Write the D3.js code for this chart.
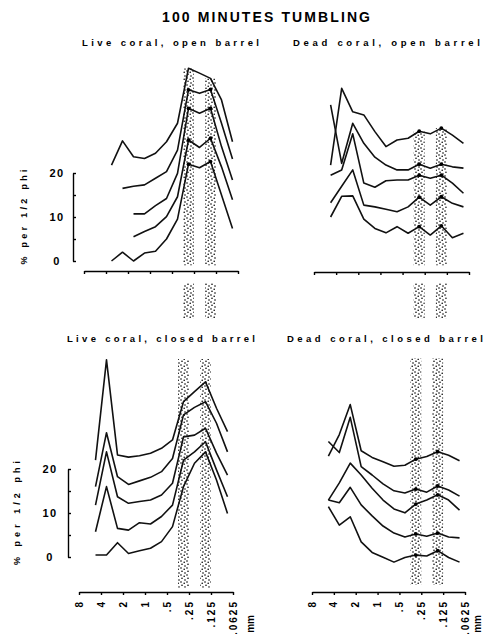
<!DOCTYPE html>
<html><head><meta charset="utf-8">
<script src="https://cdn.jsdelivr.net/npm/d3@7"></script>
<style>
body{margin:0;background:#fff}
svg{display:block}
text{font-family:"Liberation Sans",Arial,Helvetica,sans-serif;font-weight:bold;fill:#000}
</style>
</head><body>
<svg id="chart" width="485" height="634"></svg>
<script>
// ---------- data ----------
const chartTitle = "100 MINUTES TUMBLING";
const panelTitles = ["Live coral, open barrel", "Dead coral, open barrel", "Live coral, closed barrel", "Dead coral, closed barrel"];
const yAxisTitle = "% per 1/2 phi";
const phiTicks = [-3, -2, -1, 0, 1, 2, 3, 4];
const sizeLabels = ["8", "4", "2", "1", ".5", ".25", ".125", ".0625"];
const unitLabel = "mm";
const yTicks = [0, 5, 10, 15, 20];
const yTickLabels = [0, 10, 20];
const stackStep = 5;                 // each curve raised 5 % above the previous one
const bandPhi = [[1.5, 2.0], [2.5, 3.0]];
const markPhi = [1.75, 2.75];

const phiLiveOpen = [-1.75, -1.25, -0.75, -0.25, 0.25, 0.75, 1.25, 1.75, 2.25, 2.75, 3.25, 3.75];
const phiOther = [-2.25, -1.75, -1.25, -0.75, -0.25, 0.25, 0.75, 1.25, 1.75, 2.25, 2.75, 3.25, 3.75];

// curves listed bottom to top
const liveOpen = [
  [0, 2, 0, 1.8, 2.2, 5, 9.5, 22, 21.2, 22.6, 15, 7.4],
  [null, null, 0.5, 1.7, 2.8, 5.1, 9.6, 22.5, 20.8, 22.9, 16.4, 8.9],
  [null, null, 0.7, 0.7, 2.6, 4.2, 9.9, 24.7, 23.6, 24.7, 16, 8.4],
  [null, 1.5, 2, 2.3, 3.8, 5.3, 10.2, 23.9, 23.1, 24, 16.3, 8.2],
  [1.8, 7.3, 3.7, 3.3, 4.5, 7.1, 11.3, 23.8, 22.7, 21.5, 16.6, 7.1]
];
const deadOpen = [
  [10, 14.7, 14.8, 9.5, 7.4, 6.4, 7.8, 6.3, 7.8, 5.9, 8, 5.3, 6.3],
  [8.25, 12, 15.7, 7.7, 7.3, 6.75, 6.2, 7.3, 9.5, 7.7, 9.6, 8.1, 7.3],
  [9.5, 10.7, 18.9, 7.7, 6.75, 8.25, 8.4, 8.4, 9.5, 8.8, 9.5, 7.7, 5.4],
  [20.5, 7.2, 16.3, 11.75, 8.6, 6.8, 5.7, 5.7, 7, 6.1, 7, 6.4, 6.1],
  [1.8, 19.25, 13.9, 13.2, 9.4, 6, 7.5, 7.9, 9.5, 8.9, 10.2, 8.6, 6.75]
];
const liveClosed = [
  [0.45, 0.45, 3.25, 0.8, 1.4, 2, 3.5, 6.9, 16, 21.3, 23.9, 17.5, 9.9],
  [0.75, 11, 1.5, 1.1, 2.8, 2.5, 4.2, 6.8, 17, 18.9, 21.2, 14.8, 8.7],
  [1.8, 13.9, 3.7, 2.2, 2.6, 2.95, 4.1, 6.75, 17.3, 17.7, 19.25, 13.6, 8.6],
  [1, 13.25, 3.25, 1.5, 2.3, 3.1, 4.4, 7.4, 17.3, 19, 20.3, 15.4, 8.9],
  [2, 24.8, 3.2, 2.7, 3, 3.6, 4.7, 6.6, 15.3, 17.6, 19.8, 13.8, 8.5]
];
const deadClosed = [
  [12.8, 8.6, 10.5, 4.8, 2.4, 1.3, 0.2, 1.25, 1.8, 1.6, 2.8, 1.25, 0.2],
  [9.3, 8.7, 12.2, 8.2, 5.7, 3.4, 1.8, 0.9, 1.6, 1.1, 1.8, 0.9, 0.7],
  [4.3, 8.2, 12.7, 10, 7, 4.3, 2.3, 1.4, 3.4, 4.3, 5.5, 4.3, 2],
  [12.6, 10.1, 18.1, 6.9, 5, 3, 1.4, 0.9, 1.8, 1.1, 2.5, 1.6, 0.2],
  [4.3, 9.2, 16, 5.5, 4, 3, 2, 2.2, 3.6, 4.2, 5.3, 4.5, 3.25]
];

// ---------- layout ----------
const panels = [
  {title: panelTitles[0], phi: phiLiveOpen, curves: liveOpen, xr: [84, 238], y0: 261, axisY: 271,
   yAxisX: 73, yLabX: 57, yTitleX: 24, yTitleLen: 95, tx: 82, ty: 46, tlen: 177,
   bandTop: "curve", bandBottom: -1, stub: [-5, -13], marks: [0, 1, 2, 3], sizeLabels: false},
  {title: panelTitles[1], phi: phiOther, curves: deadOpen, xr: [314, 469], y0: 261, axisY: 272,
   yAxisX: null, tx: 293, ty: 46, tlen: 187,
   bandTop: "curve", bandBottom: -1, stub: [-5, -13], marks: [0, 1, 2, 3, 4], sizeLabels: false},
  {title: panelTitles[2], phi: phiOther, curves: liveClosed, xr: [79, 233], y0: 557, axisY: 592,
   yAxisX: 68, yLabX: 50, yTitleX: 17, yTitleLen: 104, tx: 67, ty: 342, tlen: 188,
   bandTop: 45, bandBottom: -7, stub: null, marks: [], sizeLabels: true, unitX: 250},
  {title: panelTitles[3], phi: phiOther, curves: deadClosed, xr: [312, 465], y0: 563, axisY: 592,
   yAxisX: null, tx: 287, ty: 342, tlen: 196,
   bandTop: 46.5, bandBottom: -5, stub: null, marks: [0, 1, 2, 3, 4], sizeLabels: true, unitX: 477}
];

const svg = d3.select("#chart");
const defs = svg.append("defs");
const pat = defs.append("pattern").attr("id", "stipple").attr("patternUnits", "userSpaceOnUse")
  .attr("width", 6).attr("height", 7);
[[1, 1], [4.2, 2.2], [2, 4.3], [5, 6]].forEach(p =>
  pat.append("circle").attr("cx", p[0]).attr("cy", p[1]).attr("r", 0.8).attr("fill", "#000"));

svg.append("text").attr("x", 162).attr("y", 22).attr("font-size", 14)
  .attr("textLength", 208).attr("lengthAdjust", "spacing").text(chartTitle);

panels.forEach(p => {
  const x = d3.scaleLinear().domain([phiTicks[0], phiTicks[phiTicks.length - 1]]).range(p.xr);
  const y = d3.scaleLinear().domain([0, 20]).range([p.y0, p.y0 - 88]);
  const g = svg.append("g");

  // title
  g.append("text").attr("x", p.tx).attr("y", p.ty).attr("font-size", 9.5)
    .attr("textLength", p.tlen).attr("lengthAdjust", "spacing").text(p.title);

  // stippled bands
  bandPhi.forEach((b, bi) => {
    let topVal;
    if (p.bandTop === "curve") {
      const idx = p.phi.indexOf(markPhi[bi]);
      topVal = d3.max(p.curves, (c, i) => c[idx] == null ? 0 : c[idx] + i * stackStep);
    } else topVal = p.bandTop;
    g.append("rect").attr("x", x(b[0])).attr("width", x(b[1]) - x(b[0]))
      .attr("y", y(topVal)).attr("height", y(p.bandBottom) - y(topVal))
      .attr("fill", "url(#stipple)");
    if (p.stub) {
      g.append("rect").attr("x", x(b[0])).attr("width", x(b[1]) - x(b[0]))
        .attr("y", y(p.stub[0])).attr("height", y(p.stub[1]) - y(p.stub[0]))
        .attr("fill", "url(#stipple)");
    }
  });

  // curves
  const line = d3.line().defined(d => d.v != null).x(d => x(d.phi)).y(d => y(d.v + d.off));
  p.curves.forEach((c, i) => {
    const pts = c.map((v, k) => ({phi: p.phi[k], v: v, off: i * stackStep}));
    g.append("path").attr("d", line(pts)).attr("fill", "none").attr("stroke", "#111")
      .attr("stroke-width", 1.6).attr("stroke-linejoin", "round");
    if (p.marks.includes(i)) {
      markPhi.forEach(m => {
        const k = p.phi.indexOf(m);
        g.append("circle").attr("cx", x(m)).attr("cy", y(c[k] + i * stackStep)).attr("r", 1.9).attr("fill", "#000");
      });
    }
  });

  // x axis
  const xAxis = d3.axisBottom(x).tickValues(phiTicks).tickSize(3).tickSizeOuter(0).tickFormat("");
  const ax = g.append("g").attr("transform", `translate(0,${p.axisY})`).call(xAxis);
  ax.select(".domain").attr("stroke", "#000").attr("stroke-width", 1.4);
  ax.selectAll(".tick line").attr("stroke", "#000").attr("stroke-width", 1.4);
  ax.selectAll(".tick text").remove();
  if (p.sizeLabels) {
    g.selectAll(null).data(phiTicks).enter().append("text")
      .attr("transform", d => `translate(${x(d)},${p.axisY + 8}) rotate(-90)`)
      .attr("text-anchor", "end").attr("dy", "0.35em").attr("font-size", 10)
      .style("letter-spacing", "2px")
      .text((d, i) => sizeLabels[i]);
    g.append("text").attr("transform", `translate(${p.unitX},615) rotate(-90)`)
      .attr("text-anchor", "end").attr("dy", "0.35em").attr("font-size", 10).text(unitLabel);
  }

  // y axis
  if (p.yAxisX != null) {
    const yAxis = d3.axisRight(y).tickValues(yTicks).tickSize(3).tickSizeOuter(0).tickFormat("");
    const ay = g.append("g").attr("transform", `translate(${p.yAxisX},0)`).call(yAxis);
    ay.select(".domain").attr("stroke", "#000").attr("stroke-width", 1.4);
    ay.selectAll(".tick line").attr("stroke", "#000").attr("stroke-width", 1.4);
    g.selectAll(null).data(yTickLabels).enter().append("text")
      .attr("x", p.yLabX).attr("y", d => y(d)).attr("dy", "0.35em")
      .attr("text-anchor", "middle").attr("font-size", 11).style("letter-spacing", "1.5px")
      .text(d => d);
    const mid = (y(0) + y(20)) / 2;
    g.append("text").attr("transform", `translate(${p.yTitleX},${mid}) rotate(-90)`)
      .attr("text-anchor", "middle").attr("dy", "0.35em").attr("font-size", 9)
      .attr("textLength", p.yTitleLen).attr("lengthAdjust", "spacing").text(yAxisTitle);
  }
});
</script>
</body></html>
